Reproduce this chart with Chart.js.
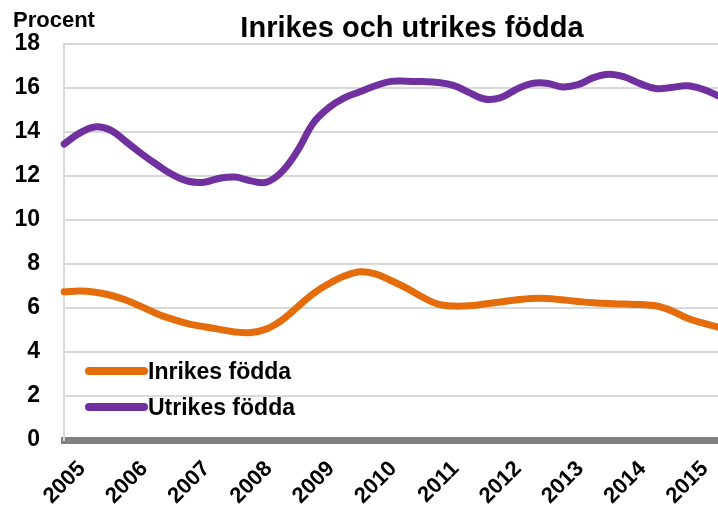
<!DOCTYPE html>
<html lang="sv">
<head>
<meta charset="utf-8">
<title>Inrikes och utrikes födda</title>
<script src="https://cdn.jsdelivr.net/npm/chart.js@4.4.1/dist/chart.umd.min.js"></script>
<style>
  html, body { margin: 0; padding: 0; background: #fff; }
  #wrap { width: 718px; height: 508px; position: relative; }
</style>
</head>
<body>
<div id="wrap"><canvas id="grafik"></canvas></div>
<script>
// Kvartalsdata 2005 K1 - 2015 K3
const years = ['2005', '2006', '2007', '2008', '2009', '2010', '2011', '2012', '2013', '2014', '2015'];

const inrikes = [6.74, 6.77, 6.72, 6.58, 6.35, 6.05, 5.73, 5.48, 5.28, 5.15, 5.03, 4.91, 4.89, 5.05, 5.45,
  6.05, 6.65, 7.1, 7.45, 7.65, 7.55, 7.25, 6.9, 6.5, 6.18, 6.09, 6.1, 6.18, 6.27, 6.36, 6.43, 6.43, 6.37,
  6.3, 6.24, 6.2, 6.18, 6.16, 6.1, 5.88, 5.55, 5.32, 5.13];

const utrikes = [13.45, 13.95, 14.23, 14.08, 13.55, 13.0, 12.5, 12.05, 11.76, 11.72, 11.9, 11.95, 11.78,
  11.72, 12.2, 13.15, 14.4, 15.1, 15.55, 15.83, 16.1, 16.3, 16.31, 16.29, 16.25, 16.12, 15.8, 15.5, 15.55,
  15.92, 16.2, 16.22, 16.05, 16.15, 16.47, 16.63, 16.5, 16.2, 15.98, 16.02, 16.1, 15.95, 15.65];

const seriesNames = ['Inrikes födda', 'Utrikes födda'];
const seriesColors = ['#E46C0A', '#7030A0'];

const yTicks = [0, 2, 4, 6, 8, 10, 12, 14, 16, 18];

// en etikett per kvartal, bara årtalet visas
const quarters = years.flatMap(y => ['K1', 'K2', 'K3', 'K4'].map(q => y + ' ' + q)).slice(0, inrikes.length);

const FONT = "'Liberation Sans', Arial, sans-serif";

// titel, "Procent" och legend inne i diagramytan
const extraText = {
  id: 'extraText',
  afterDraw(chart) {
    const ctx = chart.ctx;
    const area = chart.chartArea;
    ctx.save();
    ctx.fillStyle = '#000';
    ctx.textBaseline = 'alphabetic';

    ctx.font = 'bold 29px ' + FONT;
    ctx.textAlign = 'center';
    ctx.fillText('Inrikes och utrikes födda', 412, 37);

    ctx.font = 'bold 22px ' + FONT;
    ctx.textAlign = 'left';
    ctx.fillText('Procent', 13, 27);

    // legend
    ctx.font = 'bold 23px ' + FONT;
    chart.data.datasets.forEach((ds, i) => {
      const y = 371 + i * 36;
      ctx.strokeStyle = ds.borderColor;
      ctx.lineWidth = 8;
      ctx.lineCap = 'round';
      ctx.beginPath();
      ctx.moveTo(area.left + 25, y);
      ctx.lineTo(area.left + 80, y);
      ctx.stroke();
      ctx.fillText(ds.label, area.left + 84, y + 8);
    });
    ctx.restore();
  }
};

const config = {
  type: 'line',
  data: {
    labels: quarters,
    datasets: [
      { label: seriesNames[0], data: inrikes, borderColor: seriesColors[0], backgroundColor: seriesColors[0] },
      { label: seriesNames[1], data: utrikes, borderColor: seriesColors[1], backgroundColor: seriesColors[1] }
    ]
  },
  options: {
    responsive: true,
    maintainAspectRatio: false,
    animation: false,
    layout: { padding: { top: 44, left: 0, right: 0, bottom: 0 } },
    elements: {
      line: { borderWidth: 7, tension: 0.4, borderCapStyle: 'round', borderJoinStyle: 'round' },
      point: { radius: 0, hoverRadius: 0 }
    },
    plugins: {
      legend: { display: false },
      title: { display: false },
      tooltip: { enabled: false }
    },
    scales: {
      x: {
        offset: false,
        grid: { display: false, drawTicks: false },
        border: { display: true, color: '#808080', width: 7 },
        ticks: {
          autoSkip: false,
          maxRotation: 45,
          minRotation: 45,
          padding: 16,
          labelOffset: 18,
          color: '#000',
          font: { family: FONT, size: 22, weight: 'bold' },
          callback: function (val, i) {
            const lbl = this.getLabelForValue(val);
            return lbl.endsWith('K1') ? lbl.slice(0, 4) : '';
          }
        },
        afterFit(scale) {
          scale.height = 68;
          scale.paddingLeft = 0;
          scale.paddingRight = 0;
        }
      },
      y: {
        min: 0,
        max: 18,
        afterBuildTicks(scale) {
          scale.ticks = yTicks.map(v => ({ value: v }));
        },
        grid: { color: '#d9d9d9', lineWidth: 2, drawTicks: false },
        border: { display: true, color: '#d9d9d9', width: 2 },
        ticks: {
          padding: 24,
          color: '#000',
          font: { family: FONT, size: 23, weight: 'bold' }
        },
        afterFit(scale) {
          scale.width = 64;
          scale.paddingTop = 0;
          scale.paddingBottom = 0;
        }
      }
    }
  },
  plugins: [extraText]
};

const ctx = document.getElementById('grafik').getContext('2d');
new Chart(ctx, config);
</script>
</body>
</html>
